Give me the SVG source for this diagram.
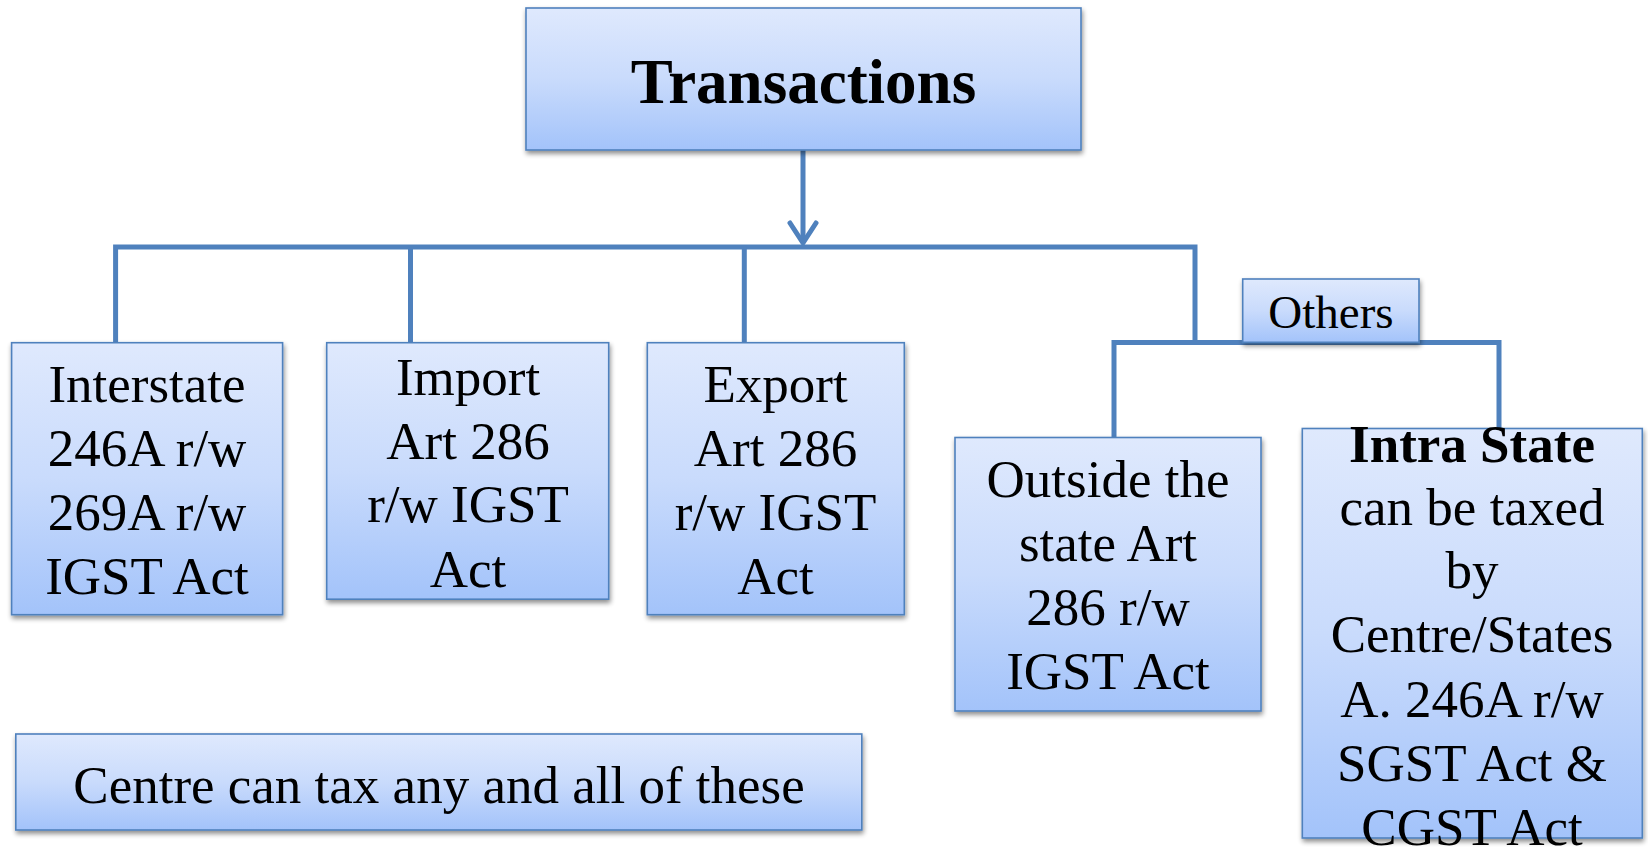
<svg xmlns="http://www.w3.org/2000/svg" width="1648" height="850" viewBox="0 0 1648 850">
  <defs>
    <linearGradient id="boxFill" x1="0" y1="0" x2="0" y2="1">
      <stop offset="0" stop-color="#DFE9FD"/>
      <stop offset="0.5" stop-color="#C9DBFC"/>
      <stop offset="1" stop-color="#A3C3FA"/>
    </linearGradient>
    <filter id="shadow" x="-10%" y="-10%" width="120%" height="125%">
      <feGaussianBlur in="SourceAlpha" stdDeviation="2.5"/>
      <feOffset dx="1" dy="3" result="b"/>
      <feComponentTransfer><feFuncA type="linear" slope="0.45"/></feComponentTransfer>
      <feMerge><feMergeNode/><feMergeNode in="SourceGraphic"/></feMerge>
    </filter>
  </defs>
  <style>
    .box { fill: url(#boxFill); stroke: #4F81BD; stroke-width: 1.6; filter: url(#shadow); }
    .wire { fill: none; stroke: #4F81BD; stroke-width: 5; stroke-linejoin: miter; }
    .head { fill: none; stroke: #4F81BD; stroke-width: 5; stroke-linecap: round; stroke-linejoin: round; }
    .t { font-family: "Liberation Serif", "Times New Roman", serif; font-size: 53px; fill: #000; text-anchor: middle; }
    .b { font-weight: bold; }
    .title { font-size: 63px; }
    .small { font-size: 47px; }
  </style>

  <rect width="1648" height="850" fill="#FFFFFF"/>

  <!-- connectors -->
  <g id="connectors">
    <line class="wire" x1="803" y1="150" x2="803" y2="243"/>
    <polyline class="head" points="790,223 803,243 816,223"/>
    <polyline class="wire" points="115.6,343 115.6,247 1195,247 1195,342"/>
    <line class="wire" x1="410.5" y1="247" x2="410.5" y2="343"/>
    <line class="wire" x1="744.3" y1="247" x2="744.3" y2="343"/>
    <polyline class="wire" points="1114,438 1114,342.5 1499,342.5 1499,429"/>
  </g>

  <g id="transactions">
    <rect class="box" x="526" y="8" width="555" height="142"/>
    <text class="t b title" x="803.5" y="102.7">Transactions</text>
  </g>

  <g id="interstate">
    <rect class="box" x="11.6" y="342.7" width="271" height="272"/>
    <text class="t" x="147" y="401.7">Interstate</text>
    <text class="t" x="147" y="466">246A r/w</text>
    <text class="t" x="147" y="530">269A r/w</text>
    <text class="t" x="147" y="594">IGST Act</text>
  </g>

  <g id="import">
    <rect class="box" x="326.7" y="342.7" width="282" height="256.5"/>
    <text class="t" x="468" y="394.5">Import</text>
    <text class="t" x="468" y="458.5">Art 286</text>
    <text class="t" x="468" y="522">r/w IGST</text>
    <text class="t" x="468" y="586.5">Act</text>
  </g>

  <g id="export">
    <rect class="box" x="647.3" y="342.7" width="257" height="272"/>
    <text class="t" x="775.5" y="401.7">Export</text>
    <text class="t" x="775.5" y="466">Art 286</text>
    <text class="t" x="775.5" y="530">r/w IGST</text>
    <text class="t" x="775.5" y="594">Act</text>
  </g>

  <g id="others">
    <rect class="box" x="1242.7" y="279" width="176.3" height="63.3"/>
    <text class="t small" x="1331" y="328.3">Others</text>
  </g>

  <g id="outside-state">
    <rect class="box" x="955" y="437.5" width="306" height="273.5"/>
    <text class="t" x="1108" y="497.3">Outside the</text>
    <text class="t" x="1108" y="560.5">state Art</text>
    <text class="t" x="1108" y="624.5">286 r/w</text>
    <text class="t" x="1108" y="688.5">IGST Act</text>
  </g>

  <g id="intra-state">
    <rect class="box" x="1302.3" y="428.5" width="340" height="409.5"/>
    <text class="t b" x="1472" y="461.5">Intra State</text>
    <text class="t" x="1472" y="525">can be taxed</text>
    <text class="t" x="1472" y="588">by</text>
    <text class="t" x="1472" y="652">Centre/States</text>
    <text class="t" x="1472" y="716.5">A. 246A r/w</text>
    <text class="t" x="1472" y="780.5">SGST Act &amp;</text>
    <text class="t" x="1472" y="845">CGST Act</text>
  </g>

  <g id="centre-note">
    <rect class="box" x="15.8" y="734" width="846" height="96"/>
    <text class="t" x="439" y="803">Centre can tax any and all of these</text>
  </g>
</svg>
